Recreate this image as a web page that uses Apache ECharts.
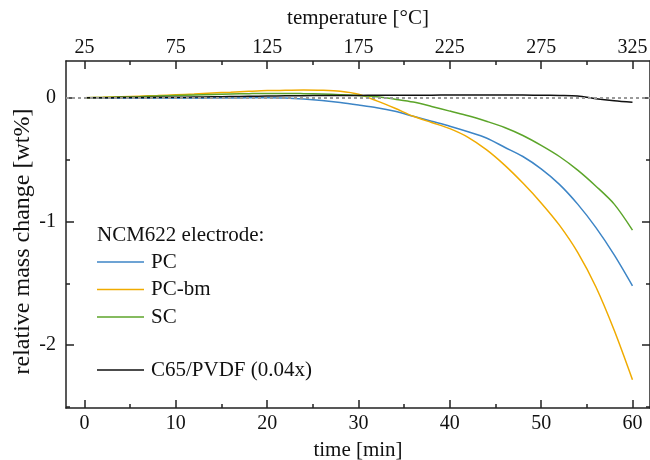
<!DOCTYPE html>
<html>
<head>
<meta charset="utf-8">
<script src="https://cdn.jsdelivr.net/npm/echarts@6/dist/echarts.min.js"></script>
<style>html,body{margin:0;padding:0;background:#fff}#c{width:650px;height:460px}</style>
</head>
<body>
<div id="c"></div>
<script>
// ---- data ----
const time = [0,2,4,6,8,10,12,14,16,18,20,22,24,26,28,30,32,34,36,38,40,42,44,46,48,50,52,54,56,58,60];
const pc   = [0,-0.003,-0.004,-0.005,-0.005,-0.005,-0.004,-0.003,-0.002,-0.001,0.0,-0.002,-0.010,-0.022,-0.038,-0.058,-0.080,-0.110,-0.150,-0.190,-0.230,-0.275,-0.325,-0.400,-0.475,-0.575,-0.700,-0.860,-1.050,-1.270,-1.52];
const pcbm = [0,0.003,0.008,0.013,0.018,0.024,0.030,0.038,0.045,0.052,0.058,0.060,0.062,0.060,0.052,0.028,-0.025,-0.085,-0.150,-0.200,-0.250,-0.320,-0.420,-0.545,-0.690,-0.850,-1.030,-1.250,-1.530,-1.880,-2.28];
const sc   = [0,0.002,0.005,0.009,0.014,0.018,0.022,0.026,0.030,0.033,0.035,0.035,0.033,0.030,0.025,0.018,0.008,-0.012,-0.035,-0.070,-0.108,-0.145,-0.190,-0.240,-0.305,-0.385,-0.475,-0.585,-0.715,-0.860,-1.07];
const c65  = [0,0.0,0.001,0.002,0.003,0.004,0.006,0.008,0.010,0.012,0.014,0.016,0.017,0.018,0.018,0.019,0.020,0.020,0.020,0.021,0.022,0.022,0.022,0.022,0.022,0.020,0.019,0.015,-0.008,-0.025,-0.037];

const seriesNames = ['PC','PC-bm','SC','C65/PVDF (0.04x)'];
const timeTicks = [0,10,20,30,40,50,60];
const timeMinor = [5,15,25,35,45,55];
const tempTicks = [25,75,125,175,225,275,325];
const tempMinor = [50,100,150,200,250,300];
const yTicks = [-2,-1,0];
const yMinor = [-2.5,-1.5,-0.5];

// ---- layout ----
const FONT = '"Liberation Serif", "Times New Roman", serif';
const AX = '#222';
const tMin = -2.03, tMax = 61.92;
const yMin = -2.508, yMax = 0.297;
const toTemp = t => 25 + 5 * t;

const zip = (xs, ys) => xs.map((x, i) => [x, ys[i]]);

function axisBase(extra) {
  return Object.assign({
    type: 'value',
    gridIndex: 0,
    nameMoveOverlap: false,
    splitLine: { show: false },
    axisLine: { show: true, onZero: false, lineStyle: { color: AX, width: 1.5 } },
    axisTick: { show: true, inside: true, length: 8, lineStyle: { color: AX, width: 1.5 } },
    axisLabel: { show: true, color: '#111', fontFamily: FONT, fontSize: 20 }
  }, extra);
}
function minorAxis(extra, vals) {
  return Object.assign({
    type: 'value',
    gridIndex: 0,
    splitLine: { show: false },
    axisLine: { show: false, onZero: false },
    axisTick: { show: true, inside: true, length: 4, customValues: vals, lineStyle: { color: AX, width: 1.5 } },
    axisLabel: { show: false }
  }, extra);
}

const chart = echarts.init(document.getElementById('c'), null, { renderer: 'canvas' });
const colors = ['#3d85c6', '#f0ab00', '#5ca52a', '#111111'];
const dataSets = [pc, pcbm, sc, c65];

const legendText = { fontFamily: FONT, fontSize: 21, color: '#111', lineHeight: 21, padding: [0, 0, 0, 2] };

const option = {
  animation: false,
  backgroundColor: '#fff',
  grid: { left: 66, right: 0, top: 61, bottom: 52, containLabel: false, outerBoundsMode: 'none' },
  xAxis: [
    axisBase({ position: 'bottom', min: tMin, max: tMax,
      name: 'time [min]', nameLocation: 'middle', nameGap: 32,
      nameTextStyle: { fontFamily: FONT, fontSize: 21, color: '#111' },
      axisTick: { show: true, inside: true, length: 8, customValues: timeTicks, lineStyle: { color: AX, width: 1.5 } },
      axisLabel: { show: true, color: '#111', fontFamily: FONT, fontSize: 20, margin: 6, customValues: timeTicks } }),
    axisBase({ position: 'top', min: toTemp(tMin), max: toTemp(tMax),
      name: 'temperature [°C]', nameLocation: 'middle', nameGap: 32,
      nameTextStyle: { fontFamily: FONT, fontSize: 21, color: '#111' },
      axisTick: { show: true, inside: true, length: 8, customValues: tempTicks, lineStyle: { color: AX, width: 1.5 } },
      axisLabel: { show: true, color: '#111', fontFamily: FONT, fontSize: 20, margin: 3, customValues: tempTicks } }),
    minorAxis({ position: 'bottom', min: tMin, max: tMax }, timeMinor),
    minorAxis({ position: 'top', min: toTemp(tMin), max: toTemp(tMax) }, tempMinor)
  ],
  yAxis: [
    axisBase({ position: 'left', min: yMin, max: yMax,
      name: 'relative mass change [wt%]', nameLocation: 'middle', nameGap: 31, nameRotate: 90,
      nameTextStyle: { fontFamily: FONT, fontSize: 24, color: '#111', padding: [0, 14, 0, 0] },
      axisTick: { show: true, inside: true, length: 8, customValues: yTicks, lineStyle: { color: AX, width: 1.5 } },
      axisLabel: { show: true, color: '#111', fontFamily: FONT, fontSize: 20, margin: 10, customValues: yTicks } }),
    minorAxis({ position: 'left', min: yMin, max: yMax }, yMinor),
    axisBase({ position: 'right', min: yMin, max: yMax,
      axisTick: { show: true, inside: true, length: 8, customValues: yTicks, lineStyle: { color: AX, width: 1.5 } },
      axisLabel: { show: false } }),
    minorAxis({ position: 'right', min: yMin, max: yMax }, yMinor)
  ],
  legend: [
    { orient: 'vertical', left: 97, top: 251.5, padding: 0, itemWidth: 47, itemHeight: 1.5, itemGap: 6.5, icon: 'rect',
      data: seriesNames.slice(0, 3), textStyle: legendText },
    { orient: 'vertical', left: 97, top: 359.5, padding: 0, itemWidth: 47, itemHeight: 1.5, icon: 'rect',
      data: seriesNames.slice(3), textStyle: legendText }
  ],
  graphic: [
    { type: 'text', left: 97, top: 225,
      style: { text: 'NCM622 electrode:', font: '21px ' + FONT, fill: '#111' } }
  ],
  series: [
    { type: 'line', name: '_zero', xAxisIndex: 0, yAxisIndex: 0, data: [], silent: true, z: 1,
      markLine: { silent: true, symbol: 'none', label: { show: false },
        lineStyle: { color: '#9a9a9a', type: [3, 3], width: 2 },
        data: [{ yAxis: 0 }] } }
  ].concat(dataSets.map((d, i) => ({
    type: 'line', name: seriesNames[i], xAxisIndex: 0, yAxisIndex: 0,
    data: zip(time, d), showSymbol: false, symbol: 'none', smooth: 0.3,
    color: colors[i], lineStyle: { color: colors[i], width: 1.5 }, z: 2
  })))
};
chart.setOption(option);
</script>
</body>
</html>
